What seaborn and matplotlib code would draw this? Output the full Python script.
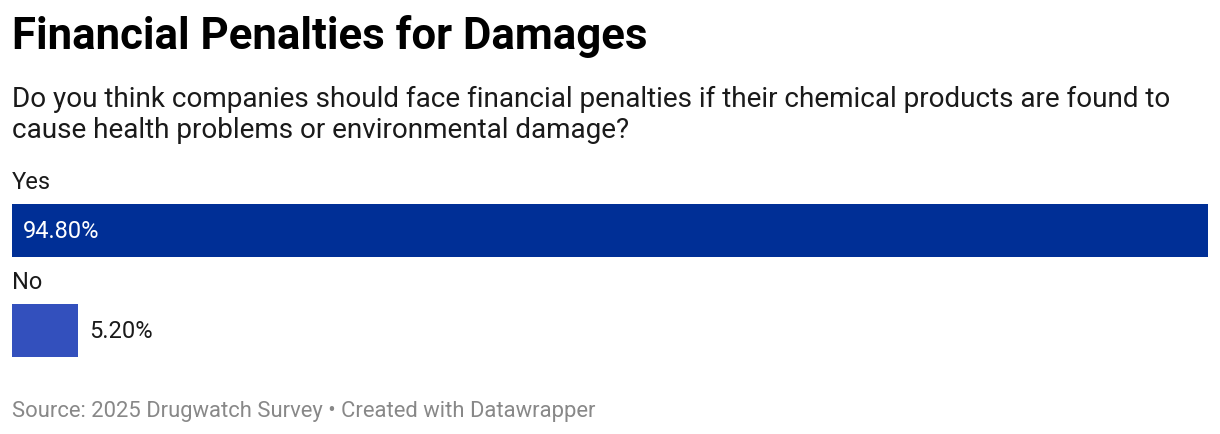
import matplotlib
matplotlib.use("Agg")
import matplotlib.pyplot as plt
import seaborn as sns
import pandas as pd

# data
answers = ["Yes", "No"]
shares = [94.80, 5.20]
bar_colors = ["#002f96", "#3350bd"]

df = pd.DataFrame({"answer": answers, "share": shares})

sns.set_theme(style="white")
plt.rcParams["font.family"] = ["Roboto", "DejaVu Sans"]

W, H = 1220, 434
fig = plt.figure(figsize=(W / 100, H / 100), dpi=100)

# axes placed in pixel terms: bars span x 12..1208, rows centred at 230 / 330
ax_left, ax_right = 12, 1208
ax_top, ax_bottom = 180.5, 380.5
ax = fig.add_axes([ax_left / W, 1 - ax_bottom / H,
                   (ax_right - ax_left) / W, (ax_bottom - ax_top) / H])

sns.barplot(data=df, x="share", y="answer", hue="answer", palette=bar_colors,
            width=0.53, legend=False, ax=ax, saturation=1, linewidth=0)
ax.set_xlim(0, max(shares))
ax.set_ylim(1.5, -0.5)
ax.axis("off")

for i, (lab, val) in enumerate(zip(answers, shares)):
    ax.text(0, i - 0.48, lab, fontsize=17, color="#1a1a1a", va="center", ha="left")
    txt = f"{val:.2f}%"
    if val > 50:
        ax.annotate(txt, (0, i), xytext=(7.5, -0.5), textcoords="offset points",
                    va="center", ha="left", fontsize=17, color="white")
    else:
        ax.annotate(txt, (val, i), xytext=(8, -0.5), textcoords="offset points",
                    va="center", ha="left", fontsize=17, color="#1a1a1a")

fig.text(12 / W, 1 - 36 / H, "Financial Penalties for Damages", fontsize=31.5,
         fontweight="bold", color="#000000", va="center", ha="left")
fig.text(12 / W, 1 - 115 / H,
         "Do you think companies should face financial penalties if their chemical products are found to\n"
         "cause health problems or environmental damage?",
         fontsize=20.1, color="#1a1a1a", va="center", ha="left", linespacing=1.17)
fig.text(12 / W, 1 - 411 / H, "Source: 2025 Drugwatch Survey \u2022 Created with Datawrapper",
         fontsize=15.8, color="#888888", va="center", ha="left")

fig.savefig("out.png", dpi=100, facecolor="white")
